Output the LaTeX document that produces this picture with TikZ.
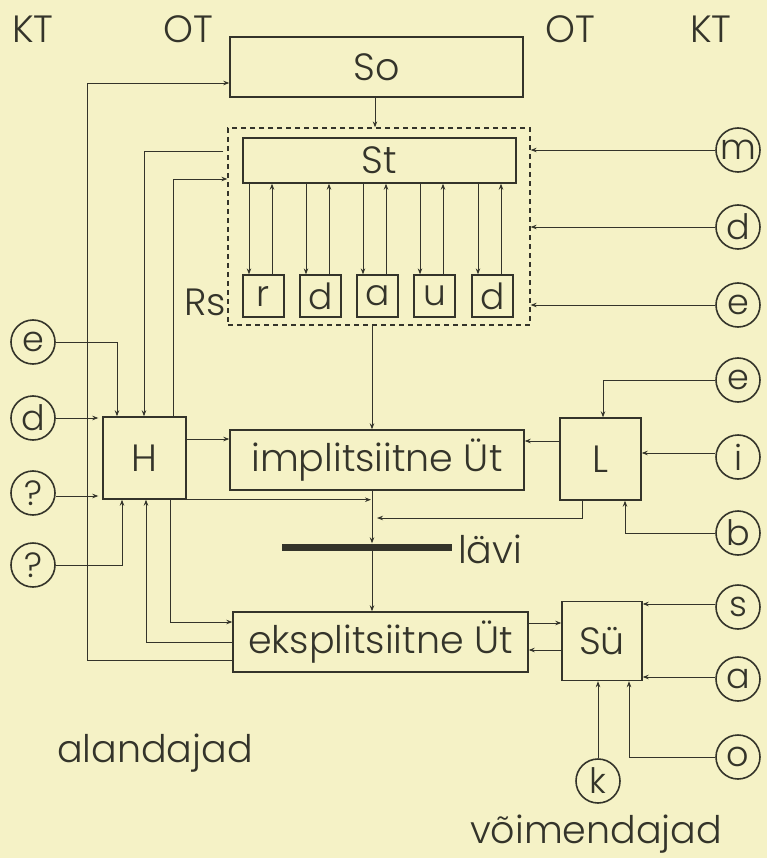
\documentclass[tikz,border=0pt]{standalone}
\usepackage{fontspec}
\setmainfont{Poppins}[UprightFont=* Light]
\usetikzlibrary{arrows.meta,calc}
\definecolor{bg}{RGB}{245,242,198}
\definecolor{ink}{RGB}{52,52,42}
\begin{document}
\begin{tikzpicture}[x=1pt,y=-1pt,
  every node/.style={text=ink},
  bigtxt/.style={font=\fontsize{38}{40}\selectfont},
  box/.style={draw=ink,line width=1.4pt,inner sep=0pt,bigtxt},
  sbox/.style={draw=ink,line width=1.3pt,inner sep=0pt,minimum width=41pt,minimum height=42pt,font=\fontsize{36}{38}\selectfont},
  circ/.style={circle,draw=ink,line width=1.6pt,inner sep=0pt,minimum size=44pt,font=\fontsize{35}{38}\selectfont},
  lab/.style={inner sep=0pt,bigtxt},
  ln/.style={draw=ink,line width=0.8pt},
  arr/.style={ln,-{Stealth[length=6pt,width=4.5pt]}},
]
\fill[bg] (0,0) rectangle (767,858);
\useasboundingbox (0,0) rectangle (767,858);

% labels
\node[lab,anchor=base west] (kt1) at (12,43) {KT};
\node[lab,anchor=base west] (ot1) at (163,43) {OT};
\node[lab,anchor=base west] (ot2) at (545,43) {OT};
\node[lab,anchor=base west] (kt2) at (690,43) {KT};
\node[lab,anchor=base west] (rslab) at (184,315) {Rs};
\node[lab,anchor=base west] (alan) at (57,762) {alandajad};
\node[lab,anchor=base west] (voim) at (470,843) {võimendajad};

% boxes
\node[box,minimum width=293pt,minimum height=60pt] (So) at (376.5,67) {So};
\node[draw=ink,line width=1.3pt,dash pattern=on 5pt off 4pt,minimum width=302pt,minimum height=197pt,inner sep=0pt] (Rs) at (379,226.5) {};
\node[box,minimum width=273pt,minimum height=45pt] (St) at (379.5,160.5) {St};
\node[sbox] (b1) at (263.5,296) {r};
\node[sbox] (b2) at (320.5,296) {d};
\node[sbox] (b3) at (377.5,296) {a};
\node[sbox] (b4) at (434.5,296) {u};
\node[sbox] (b5) at (492.5,296) {d};
\node[box,minimum width=83pt,minimum height=82pt] (H) at (144.5,458) {H};
\node[box,minimum width=294pt,minimum height=60pt] (impl) at (377,460) {implitsiitne Üt};
\node[box,minimum width=81pt,minimum height=82pt] (L) at (600.5,459) {L};
\node[box,minimum width=295pt,minimum height=60pt] (ekspl) at (380.5,642) {eksplitsiitne Üt};
\node[box,minimum width=80pt,minimum height=79pt] (Su) at (602,641) {Sü};

% threshold bar
\node[fill=ink,minimum width=170pt,minimum height=7pt,inner sep=0pt] (bar) at (367,547) {};
\node[lab,anchor=base west] (lavi) at (458,563) {lävi};

% circles right
\node[circ] (m) at (738,150) {m};
\node[circ] (rd) at (738,227) {d};
\node[circ] (re1) at (738,305) {e};
\node[circ] (re2) at (738,380) {e};
\node[circ] (ri) at (738,457) {i};
\node[circ] (rb) at (738,533) {b};
\node[circ] (rs) at (738,607) {s};
\node[circ] (ra) at (738,679) {a};
\node[circ] (ro) at (738,757) {o};
\node[circ] (rk) at (598,781) {k};
% circles left
\node[circ] (le) at (33,342) {e};
\node[circ] (ld) at (33,418) {d};
\node[circ] (lq1) at (33,493) {?};
\node[circ] (lq2) at (33,565) {?};

\coordinate (vx) at (372,0);

% So -> Rs
\draw[arr] ([xshift=-1.5pt]So.south) -- ([xshift=-1.5pt]So.south |- Rs.north);
% right inputs to Rs
\draw[arr] (m.west) -- (m.west -| Rs.east);
\draw[arr] (rd.west) -- (rd.west -| Rs.east);
\draw[arr] (re1.west) -- (re1.west -| Rs.east);
% St <-> small boxes
\foreach \b in {b1,b2,b3,b4,b5}{
  \draw[arr] ([xshift=-14.5pt]\b.north |- St.south) -- ([xshift=-14.5pt]\b.north);
  \draw[arr] ([xshift=8.5pt]\b.north) -- ([xshift=8.5pt]\b.north |- St.south);
}
% Rs -> implicit -> bar -> explicit
\draw[arr] (Rs.south -| vx) -- (impl.north -| vx);
\draw[arr] (impl.south -| vx) -- (bar.north -| vx);
\draw[arr] (bar.south -| vx) -- (ekspl.north -| vx);
% H -> implicit
\draw[arr] ([yshift=19pt]H.east) -- ([yshift=19pt]H.east -| impl.west);
% H -> threshold line
\draw[arr] (H.south east) -- ([xshift=-1pt]H.south east -| vx);
% L -> threshold line
\draw[arr] ([xshift=-18.5pt]L.south) |- ([xshift=5pt]vx |- 0,518);
% L -> implicit
\draw[arr] ([yshift=18pt]L.west) -- ([yshift=18pt]L.west -| impl.east);
% right inputs to L
\draw[arr] (re2.west) -| ([xshift=2.5pt]L.north);
\draw[arr] ([yshift=4pt]ri.west) -- ([yshift=4pt]ri.west -| L.east);
\draw[arr] (rb.west) -| ([xshift=24.5pt]L.south);
% explicit <-> Su
\draw[arr] ([yshift=19pt]ekspl.east) -- ([yshift=19pt]ekspl.east -| Su.west);
\draw[arr] ([yshift=-9pt]Su.west) -- ([yshift=-9pt]Su.west -| ekspl.east);
% right inputs to Su
\draw[arr] ([yshift=3pt]rs.west) -- ([yshift=3pt]rs.west -| Su.east);
\draw[arr] ([yshift=2pt]ra.west) -- ([yshift=2pt]ra.west -| Su.east);
\draw[arr] (ro.west) -| ([xshift=27pt]Su.south);
\draw[arr] (rk.north) -- (rk.north |- Su.south);
% left inputs to H
\draw[arr] (le.east) -| ([xshift=-27.5pt]H.north);
\draw[arr] (ld.east) -- ([xshift=-4pt]ld.east -| H.west);
\draw[arr] ([yshift=-3pt]lq1.east) -- ([xshift=-4pt,yshift=-3pt]lq1.east -| H.west);
\draw[arr] (lq2.east) -| ([xshift=-22.5pt]H.south);
% Rs -> H
\draw[arr] ([yshift=75.5pt,xshift=-4pt]Rs.west) -| ([xshift=-0.5pt]H.north);
% H -> Rs
\draw[arr] ([xshift=28.5pt]H.north) |- ([yshift=47.5pt]Rs.west);
% explicit -> So (outer loop)
\draw[arr] ([yshift=-18pt]ekspl.west) -- ++(-145,0) |- ([yshift=-16pt]So.west);
% explicit -> H
\draw[arr] (ekspl.west) -| ([xshift=1.5pt]H.south);
% H -> explicit
\draw[arr] ([xshift=25.5pt]H.south) |- ([yshift=20pt]ekspl.west);
\end{tikzpicture}
\end{document}
